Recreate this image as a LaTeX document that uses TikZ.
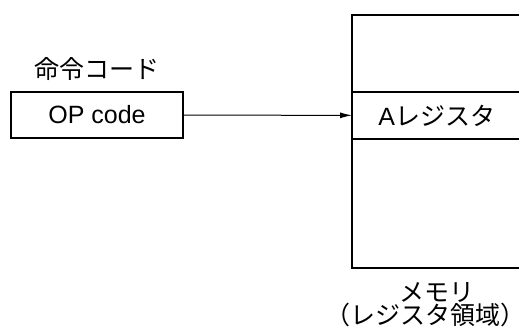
\documentclass[tikz,border=0pt]{standalone}
\usepackage{fontspec}
\setmainfont{Liberation Sans}
\newfontfamily\jp{Noto Sans CJK JP}
\usetikzlibrary{arrows.meta, positioning}

\tikzset{
  opbox/.style={draw, line width=1.2pt, minimum width=86pt, minimum height=23pt, inner sep=0pt},
  cell/.style={draw, line width=0.5pt, minimum width=110pt, inner sep=0pt},
  txt/.style={inner sep=1pt, font=\fontsize{12.5}{14}\selectfont}
}

\begin{document}
\begin{tikzpicture}[x=0.5pt, y=-0.5pt]
  \useasboundingbox (0,0) rectangle (519,331);
  \clip (0,0) rectangle (519,331);
  % instruction code
  \node[opbox, txt] (opcode) at (97,115) {OP code};
  \node[txt, above=4pt of opcode] (oplabel) {\jp 命令コード};
  % memory
  \node[cell, anchor=north west, minimum height=38pt] (upper) at (352,15) {};
  \node[cell, below=0pt of upper, minimum height=23pt] (areg) {};
  \node[cell, below=0pt of areg, minimum height=64pt] (lower) {};
  \draw[line width=1.2pt] (upper.north east) -- (upper.north west) -- (lower.south west) -- (lower.south east);
  \node[txt, anchor=west] (aregtext) at ([xshift=12pt]areg.west) {A{\jp レジスタ}};
  \node[txt] (memlabel) at (437,293) {\jp メモリ};
  \node[txt] (memsub) at (425,315) {\jp （レジスタ領域）};
  % connector
  \draw[-{Latex[length=6pt, width=3pt]}, line width=0.5pt] (opcode) -- (areg);
\end{tikzpicture}
\end{document}
